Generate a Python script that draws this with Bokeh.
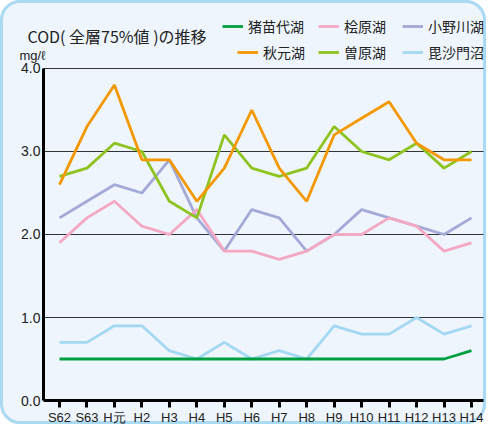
from bokeh.plotting import figure
from bokeh.models import FixedTicker, Range1d, Label, Legend, LegendItem, NumeralTickFormatter
from bokeh.embed import file_html
from bokeh.resources import INLINE

years = ["S62", "S63", "H元", "H2", "H3", "H4", "H5", "H6", "H7", "H8",
         "H9", "H10", "H11", "H12", "H13", "H14"]

inawashiro = [0.5, 0.5, 0.5, 0.5, 0.5, 0.5, 0.5, 0.5, 0.5, 0.5, 0.5, 0.5, 0.5, 0.5, 0.5, 0.6]
akimoto = [2.6, 3.3, 3.8, 2.9, 2.9, 2.4, 2.8, 3.5, 2.8, 2.4, 3.2, 3.4, 3.6, 3.1, 2.9, 2.9]
hibara = [1.9, 2.2, 2.4, 2.1, 2.0, 2.3, 1.8, 1.8, 1.7, 1.8, 2.0, 2.0, 2.2, 2.1, 1.8, 1.9]
sohara = [2.7, 2.8, 3.1, 3.0, 2.4, 2.2, 3.2, 2.8, 2.7, 2.8, 3.3, 3.0, 2.9, 3.1, 2.8, 3.0]
onogawa = [2.2, 2.4, 2.6, 2.5, 2.9, 2.2, 1.8, 2.3, 2.2, 1.8, 2.0, 2.3, 2.2, 2.1, 2.0, 2.2]
bishamon = [0.7, 0.7, 0.9, 0.9, 0.6, 0.5, 0.7, 0.5, 0.6, 0.5, 0.9, 0.8, 0.8, 1.0, 0.8, 0.9]

y_ticks = [0.0, 1.0, 2.0, 3.0, 4.0]
grid_ticks = [1.0, 2.0, 3.0, 4.0]

BG = "#eef5fc"
JP = "Noto Sans CJK JP"
NARROW = "'Liberation Sans Narrow', 'Liberation Sans', Arial, sans-serif"

W, H = 486, 424
# layout: frame covers whole figure; axes are placed at fixed locations
X0, X1 = -2.148, 15.546         # range ends (layout)
Y0, Y1 = -0.289, 4.819
AX_X = -0.5825                   # where the y axis sits
AX_XEND = 15.437                 # right end of axis / grid lines

x = list(range(len(years)))

p = figure(width=W, height=H, output_backend="svg", toolbar_location=None,
           x_range=Range1d(X0, X1), y_range=Range1d(Y0, Y1),
           min_border=0, min_border_left=0, min_border_right=0,
           min_border_top=0, min_border_bottom=0,
           background_fill_color=None, border_fill_color=None, outline_line_color=None)
p.styles = {"border-radius": "20px", "background-color": BG,
            "outline": "3px solid #a9d9f3", "outline-offset": "-3px"}

# draw order: back to front
series = [
    ("毘沙門沼", bishamon, "#a3d8f2"),
    ("小野川湖", onogawa, "#a4aad8"),
    ("桧原湖", hibara, "#f5a8c2"),
    ("曽原湖", sohara, "#8fc31f"),
    ("秋元湖", akimoto, "#f39800"),
    ("猪苗代湖", inawashiro, "#00a040"),
]
rends = {}
for name, vals, col in series:
    rends[name] = p.line(x, vals, line_color=col, line_width=2.8)

# axes
p.xaxis.fixed_location = 0
p.xaxis.bounds = (AX_X, AX_XEND)
p.xaxis.ticker = FixedTicker(ticks=x)
p.xaxis.major_label_overrides = {i: y for i, y in enumerate(years)}
p.xaxis.axis_line_width = 3
p.xaxis.axis_line_color = "black"
p.xaxis.major_tick_out = 7
p.xaxis.major_tick_in = 0
p.xaxis.major_tick_line_width = 3
p.xaxis.minor_tick_line_color = None
p.xaxis.major_label_standoff = 2
p.xaxis.major_label_text_font = NARROW
p.xaxis.major_label_text_font_size = "13px"
p.xaxis.major_label_text_color = "#222222"

p.yaxis.fixed_location = AX_X
p.yaxis.bounds = (0, 4.0)
p.yaxis.ticker = FixedTicker(ticks=y_ticks)
p.yaxis.formatter = NumeralTickFormatter(format="0.0")
p.yaxis.axis_line_width = 3
p.yaxis.axis_line_color = "black"
p.yaxis.major_tick_out = 0
p.yaxis.major_tick_in = 0
p.yaxis.minor_tick_line_color = None
p.yaxis.major_label_standoff = 3
p.yaxis.major_label_text_font = NARROW
p.yaxis.major_label_text_font_size = "14px"
p.yaxis.major_label_text_color = "#222222"

p.xgrid.visible = False
p.ygrid.ticker = FixedTicker(ticks=grid_ticks)
p.ygrid.cross_bounds = (AX_X, AX_XEND)
p.ygrid.grid_line_color = "#333333"
p.ygrid.grid_line_width = 1.2

# title and unit (screen units, from bottom-left of figure)
p.add_layout(Label(x=27, y=H - 35, x_units="screen", y_units="screen",
                   text="COD( 全層75%値 )の推移", text_baseline="middle",
                   text_font=JP, text_font_size="16px", text_color="#222222"))
p.add_layout(Label(x=19, y=H - 55, x_units="screen", y_units="screen",
                   text="mg/ℓ", text_baseline="middle",
                   text_font=NARROW, text_font_size="13px", text_color="#222222"))

# legend: one Legend per entry (glyph left x, item bottom y from figure bottom)
legend_pos = {
    "猪苗代湖": (222, H - 36),
    "秋元湖": (237, H - 62),
    "桧原湖": (318, H - 36),
    "曽原湖": (318, H - 62),
    "小野川湖": (402, H - 36),
    "毘沙門沼": (402, H - 62),
}
for name, loc in legend_pos.items():
    leg = Legend(items=[LegendItem(label=name, renderers=[rends[name]])],
                 location=loc, padding=0, margin=0, border_line_color=None,
                 background_fill_alpha=0, glyph_width=21, glyph_height=14,
                 label_height=14, label_standoff=5, label_text_font=JP,
                 label_text_font_size="14px", label_text_color="#222222")
    p.add_layout(leg)

open("out.html", "w").write(file_html(p, INLINE))
